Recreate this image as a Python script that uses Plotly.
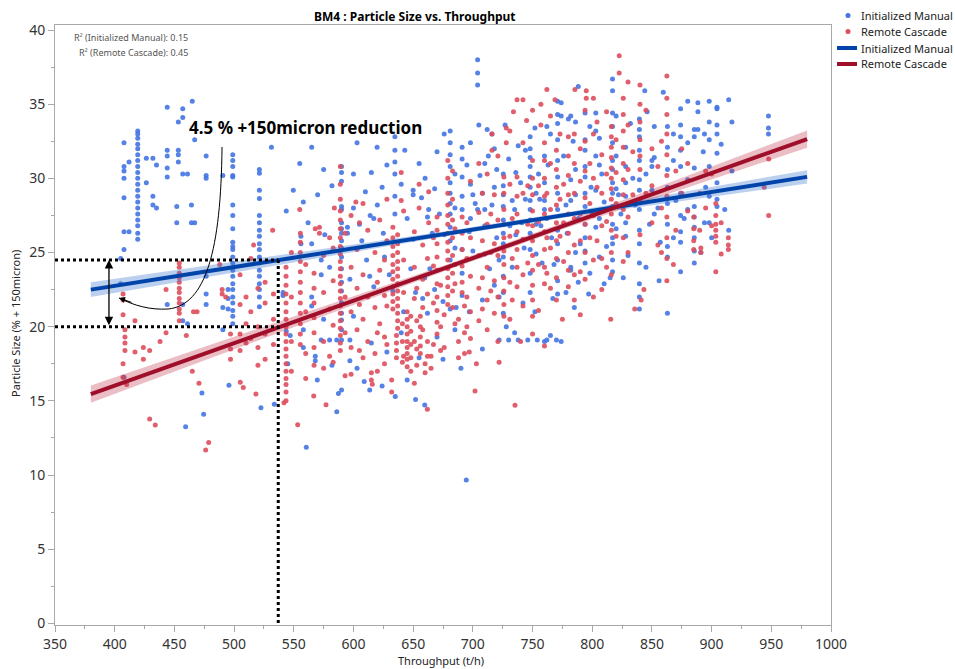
import plotly.graph_objects as go

# ---- Scatter data: throughput (t/h) vs particle size (% +150 micron) ----
# Each entry: (throughput, (particle sizes recorded at that throughput))
manual_columns = [
    (405, (22.9, 24.6)),
    (407.8, (25.2, 26.4, 28.7, 30.0, 30.5, 30.8, 32.4, 16.6)),
    (412, (31.1, 26.4)),
    (419.3, (25.9, 26.3, 26.8, 27.2, 27.6, 28.0, 28.4, 28.8, 29.2, 29.6, 30.0, 30.4,
             30.8, 31.2, 31.6, 32.0, 32.3, 32.7, 33.0, 33.2)),
    (426.5, (31.35, 29.7)),
    (432, (31.35, 28.8, 28.2)),
    (435, (30.9, 28.0)),
    (444, (34.8, 31.9, 31.5, 30.7, 30.1, 21.5)),
    (452, (28.1, 27.0)),
    (453.3, (33.8, 31.9, 31.6, 31.1)),
    (457, (34.7, 34.1, 30.3, 21.5, 20.4)),
    (459.4, (13.26,)),
    (461, (30.3, 20.2)),
    (464.3, (28.2, 27.0)),
    (465, (35.2,)),
    (467, (32.6, 27.0)),
    (473.1, (15.53,)),
    (474.5, (14.09,)),
    (476.6, (31.5, 30.2, 30.0, 23.4, 22.2, 21.5)),
    (490.6, (30.2, 21.3, 19.8)),
    (495, (22.5, 21.9, 21.2)),
    (495.7, (16.05,)),
    (498.9, (31.6, 31.2, 30.8, 30.2, 30.1, 28.2, 27.5, 26.6, 25.7, 25.4, 25.2, 24.7,
             24.3, 23.8, 23.4, 22.9, 22.5, 22.0, 21.6, 21.1, 20.7, 20.2)),
    (521.2, (30.6, 30.35, 29.2, 28.65, 27.5, 27.0, 26.5, 26.1, 25.6, 25.2, 24.7, 24.3,
             23.8, 23.4, 22.9, 22.5, 22.0, 21.35)),
    (522.5, (14.54,)),
    (531.3, (32.1,)),
    (533.7, (14.77,)),
    (541, (22.3, 22.1)),
    (543.7, (27.8, 19.7)),
    (545, (17.5,)),
    (547, (19.4,)),
    (549.6, (29.2,)),
    (555, (31.0,)),
    (556, (26.1, 25.6)),
    (558, (19.8, 18.6, 28.4)),
    (560.5, (11.87,)),
    (562, (27.0,)),
    (565, (32.1, 25.6, 22.0, 21.4)),
    (568, (18.0, 17.7)),
    (569.7, (16.4,)),
    (570, (28.9,)),
    (573, (24.5, 23.5, 19.1)),
    (575, (30.6, 20.5)),
    (576, (26.2,)),
    (580, (24.0, 19.1)),
    (582, (29.5, 17.4)),
    (586, (19.1, 14.27)),
    (587.4, (15.5,)),
    (590, (30.8, 30.4, 29.8, 28.1, 27.9, 27.0, 26.6, 26.3, 25.8, 25.3, 24.7, 23.9,
           23.0, 22.4, 21.6, 20.9, 20.45, 19.8, 19.1, 15.73)),
    (595, (26.7, 26.3)),
    (597, (23.2, 19.1, 17.7)),
    (600, (28.0, 30.3, 20.7)),
    (603, (32.4, 17.2)),
    (605, (26.9,)),
    (607, (25.8,)),
    (609, (16.3,)),
    (610, (29.1,)),
    (611, (24.5,)),
    (613.6, (15.73, 23.4)),
    (614, (27.5,)),
    (615, (30.4, 18.9)),
    (617, (27.3, 22.7)),
    (619.8, (32.1,)),
    (620, (28.2,)),
    (624, (29.4, 16.0)),
    (625, (26.3,)),
    (626, (24.7,)),
    (628, (30.9, 18.3)),
    (630, (23.5,)),
    (633, (22.4,)),
    (634.7, (32.8, 31.9, 31.1, 30.3, 28.8, 27.6)),
    (635, (15.3,)),
    (640, (29.6, 19.6)),
    (642, (21.0,)),
    (643, (31.9,)),
    (645, (16.4, 27.3)),
    (648, (23.9,)),
    (650, (29.2, 28.9, 25.9)),
    (652, (22.3, 15.1)),
    (655, (31.0, 17.9)),
    (657, (28.7,)),
    (658, (21.9,)),
    (659.7, (14.72, 23.3)),
    (660, (30.0,)),
    (662, (27.4, 20.9)),
    (663, (27.9,)),
    (664, (23.9,)),
    (666, (26.3,)),
    (668, (22.5, 29.3)),
    (670, (31.8, 19.3)),
    (672, (27.6,)),
    (675, (21.7, 17.8)),
    (676, (26.2, 33.0)),
    (681, (33.2, 32.4, 31.6, 30.8, 29.7, 29.0, 28.3, 27.6, 26.7, 25.8, 24.5, 21.2)),
    (685, (19.8, 30.3, 28.0, 25.3)),
    (686, (21.3,)),
    (690, (17.2,)),
    (691, (32.1, 31.3, 30.1, 28.8, 27.9, 25.2, 23.6, 22.1)),
    (694.5, (9.66,)),
    (695, (30.9,)),
    (697, (21.0, 26.4)),
    (698, (32.4, 29.6, 27.3)),
    (700, (28.9, 25.1)),
    (702, (28.3,)),
    (704, (38.0, 37.1, 36.3, 27.9)),
    (705, (33.6,)),
    (706, (30.2,)),
    (708, (21.8, 18.5, 29.0)),
    (710, (26.8, 31.0, 27.9, 24.9)),
    (712, (33.3,)),
    (713, (31.5,)),
    (714, (23.9,)),
    (716, (33.0, 28.2)),
    (718, (22.8, 32.0, 29.4)),
    (720, (30.6, 26.0)),
    (722, (22.0, 19.1, 24.5)),
    (725.5, (30.3, 29.5, 28.9, 28.1, 27.2, 26.3, 25.6, 24.7, 23.4, 22.3, 20.9)),
    (727, (33.6,)),
    (728, (20.0,)),
    (730, (19.1, 31.3)),
    (731, (26.8,)),
    (733, (28.5, 24.0)),
    (735, (27.9, 19.6)),
    (736, (30.4, 26.2)),
    (738, (19.1, 32.2)),
    (740, (29.7,)),
    (741, (27.0,)),
    (742, (21.6,)),
    (743, (25.3,)),
    (744, (31.9, 28.6)),
    (746, (19.1,)),
    (748, (32.8, 32.0, 31.4, 30.8, 30.1, 29.4, 28.5, 27.9, 27.2, 26.3, 25.2, 23.6, 22.3)),
    (752, (33.4, 21.0)),
    (753, (29.0, 26.9, 24.9)),
    (754, (19.1,)),
    (755, (30.3,)),
    (756, (28.6,)),
    (757, (26.8,)),
    (758, (24.3,)),
    (760, (31.5, 29.7, 28.5, 27.9, 19.0)),
    (762, (19.1, 33.5, 27.3)),
    (763, (30.9,)),
    (765, (19.4, 33.0)),
    (766, (26.0,)),
    (767, (21.9,)),
    (768, (24.2,)),
    (770, (19.1,)),
    (771, (35.2, 34.3, 33.7, 32.6, 31.2, 30.1, 29.0, 27.9, 26.5, 25.6, 24.5, 23.1, 22.2)),
    (774, (35.1, 34.2, 19.0)),
    (776, (31.5,)),
    (778, (22.3, 28.2)),
    (779, (26.3,)),
    (780, (34.0,)),
    (782, (34.2, 29.9, 28.5, 24.0, 23.8)),
    (784, (32.5,)),
    (785, (21.3,)),
    (786, (30.6, 33.8, 28.9, 25.0)),
    (788.3, (36.2, 23.0, 27.3)),
    (790, (25.6,)),
    (794, (34.4, 32.6, 31.9, 30.8, 30.1, 29.0, 28.1, 26.9, 26.0, 25.1, 24.3)),
    (797, (22.2,)),
    (798, (33.5, 23.6)),
    (799, (29.4,)),
    (800, (27.7,)),
    (803, (34.4, 33.2, 31.5, 29.2, 26.7)),
    (806, (32.7, 30.9, 27.3, 24.7)),
    (808, (30.3,)),
    (810, (28.4, 22.9)),
    (812, (25.4,)),
    (815, (23.3,)),
    (817, (36.7, 35.9, 34.4, 33.5, 32.4, 31.2, 30.6, 29.7, 29.0, 28.1, 26.9, 26.0,
           25.6, 24.5, 23.7)),
    (820, (31.5, 34.2, 29.3, 26.6)),
    (822, (28.9,)),
    (824, (27.6,)),
    (826, (23.3,)),
    (828, (32.1, 30.8, 29.7, 28.8, 27.0, 26.1)),
    (830, (24.8,)),
    (832, (33.7,)),
    (834, (30.0,)),
    (836, (28.2,)),
    (839.5, (34.0, 33.3, 32.8, 31.9, 31.2, 29.9, 29.2, 27.9, 26.5, 25.6, 24.3, 22.9,
             22.0, 21.2)),
    (844, (35.9,)),
    (845, (30.3, 24.0)),
    (846, (34.5,)),
    (848, (26.9,)),
    (850, (31.2, 30.8, 29.2)),
    (852, (33.5, 31.4, 27.6)),
    (855, (28.0,)),
    (856, (23.1,)),
    (857, (25.7,)),
    (859.5, (35.8,)),
    (863, (33.5, 32.1, 30.6, 29.4, 28.3, 26.9, 25.4, 24.7, 20.9)),
    (868, (31.2, 33.0, 26.0)),
    (870, (28.5,)),
    (874, (34.7, 33.6, 32.8, 31.9, 30.8, 29.0, 27.5, 26.4, 25.7, 23.7)),
    (877, (27.3,)),
    (880, (35.2, 32.4, 29.9, 27.9)),
    (885.5, (33.3, 32.8, 30.7, 28.1, 27.4, 26.7, 26.0, 25.1, 24.3)),
    (888.5, (35.1, 34.5, 33.3)),
    (891, (25.0,)),
    (893, (31.8,)),
    (894, (33.0, 27.0)),
    (895, (29.4,)),
    (898, (35.2, 33.8, 32.6, 30.8, 28.8, 27.0)),
    (900, (26.0,)),
    (904.5, (34.8, 34.7, 33.6, 33.0, 31.7, 29.7, 28.6, 28.1)),
    (908, (32.3,)),
    (911, (27.9,)),
    (914.3, (35.3, 26.5)),
    (917, (33.8, 30.5)),
    (947.6, (34.2, 33.4, 33.0)),
]

cascade_columns = [
    (407, (22.2, 21.8, 20.8, 17.5, 16.6)),
    (408.6, (19.8, 19.3, 18.9, 18.4)),
    (410, (16.1,)),
    (417, (20.4, 18.3)),
    (424, (18.6, 17.8)),
    (429.3, (18.4, 13.78)),
    (434, (13.37,)),
    (438, (19.0,)),
    (443, (22.5, 19.6)),
    (454.1, (24.3, 24.0, 23.6, 23.3, 23.0, 22.6, 22.3, 21.9, 21.6, 21.2, 20.9, 20.4)),
    (460, (19.4,)),
    (465, (17.0,)),
    (466, (21.0,)),
    (469, (21.0,)),
    (470.6, (16.18,)),
    (476.2, (11.69,)),
    (478.7, (12.2,)),
    (488, (24.2,)),
    (490, (22.5, 22.2)),
    (493, (22.0,)),
    (497, (19.5, 18.5, 17.8)),
    (505, (23.5, 21.5, 19.5, 18.4)),
    (505.2, (16.25,)),
    (507.7, (15.9,)),
    (510, (22.0, 20.2, 18.9)),
    (514, (24.6, 21.0, 19.2)),
    (516.4, (25.5,)),
    (518.3, (15.46,)),
    (520, (22.6, 20.0, 18.6, 17.4)),
    (526, (23.0, 21.6, 19.5, 17.8)),
    (532.3, (26.5,)),
    (533, (22.2, 20.5, 18.8)),
    (541.8, (14.87,)),
    (543.5, (24.0, 23.4, 22.8, 22.2, 21.6, 21.0, 20.5, 20.0, 19.5, 19.0, 18.5, 18.0,
             17.5, 17.0, 16.5, 16.1, 15.6, 15.0)),
    (548, (25.0, 22.0, 19.0, 17.0)),
    (553.3, (13.39,)),
    (555, (27.9,)),
    (555.5, (26.3, 25.7, 25.0, 24.4, 23.7, 23.0, 22.3, 21.6, 20.9, 20.2, 19.5, 18.8)),
    (560, (24.2, 21.0, 18.2, 16.5)),
    (566.7, (15.33,)),
    (567, (23.6, 22.6, 21.6, 20.6, 19.6, 18.6, 17.4)),
    (568, (26.6,)),
    (571.5, (26.7, 26.3)),
    (575, (24.8, 22.3, 19.0, 17.2)),
    (577, (14.74,)),
    (580, (26.0, 21.2, 18.0)),
    (583, (25.3, 23.1, 20.1, 17.6)),
    (584, (28.0,)),
    (589, (30.8, 29.6, 28.6, 27.8, 27.2, 26.6, 26.0, 25.4, 24.9, 24.4, 23.9, 23.4,
           22.9, 22.4, 21.9, 21.4, 20.9, 20.4, 19.9, 19.4, 18.9, 18.4)),
    (593, (26.3, 22.0, 19.6, 16.7)),
    (598, (27.5, 24.0, 21.0, 18.6, 16.8)),
    (602, (28.4,)),
    (603, (25.2, 22.6, 19.8)),
    (605, (27.0, 21.5, 18.4)),
    (608, (28.3, 23.5, 20.5, 17.9)),
    (612, (26.5, 22.0, 19.0)),
    (615, (16.9, 16.4)),
    (615.8, (16.12,)),
    (618, (25.0, 21.3, 18.2)),
    (620, (23.0, 19.6, 17.0)),
    (622, (27.2, 23.8, 20.2)),
    (626, (24.5, 22.1, 19.3, 17.5)),
    (628, (28.6, 25.8, 21.4, 18.8)),
    (632, (16.4, 15.6)),
    (633, (26.7, 26.0, 25.4, 24.8, 24.2, 23.7, 23.2, 22.7, 22.2, 21.7, 21.2)),
    (636, (19.4, 18.9, 18.4, 17.9)),
    (637, (26.2, 25.6, 25.0, 24.4, 23.9, 23.4, 22.9, 22.4, 21.9, 21.4, 20.9, 20.4, 19.9)),
    (640, (30.4, 28.5)),
    (641, (20.2, 19.0, 17.6)),
    (642, (27.8, 24.5, 22.3, 18.0)),
    (645, (21.0, 20.5, 20.0, 19.5, 19.0, 18.6, 18.2, 17.8, 17.3)),
    (648, (20.7, 19.7, 18.8, 17.9, 17.0)),
    (651, (16.18, 26.4, 24.0, 21.9, 19.0)),
    (653, (22.6, 20.4, 18.5, 17.4)),
    (655, (29.6, 28.0)),
    (656, (20.7, 20.0, 19.3, 18.7, 18.2)),
    (658, (25.5, 23.2, 21.3, 19.8)),
    (660, (17.5, 16.9)),
    (661.9, (14.43,)),
    (662, (24.6, 22.2, 19.0, 18.0)),
    (663, (29.1, 27.0)),
    (665, (18.0, 17.2)),
    (667, (26.0, 24.1, 21.6, 18.8)),
    (670, (27.4, 26.5, 25.6, 24.7, 23.8, 22.9, 22.0, 21.1, 20.3, 19.5)),
    (673, (22.8, 20.0, 18.4)),
    (676, (20.8, 18.6)),
    (679, (31.2, 30.0, 29.0, 28.2, 27.5, 26.9, 26.3, 25.7, 25.1, 24.5, 23.9, 23.3,
           22.7, 22.1, 21.5)),
    (683, (30.5, 28.6, 27.2, 26.0, 24.8, 23.6, 22.4, 21.3)),
    (685, (26.6, 24.2, 22.9, 20.2)),
    (688, (20.5, 19.0, 17.9)),
    (691, (27.4, 26.3, 25.2, 24.1, 23.0, 22.3)),
    (693, (21.4, 19.6, 18.2)),
    (695, (27.0, 24.6, 22.0, 20.0)),
    (697, (18.3,)),
    (698, (29.8, 26.0, 23.4, 21.0, 19.2)),
    (701.8, (15.66,)),
    (703, (17.5,)),
    (705, (31.0, 27.7, 24.8, 22.6, 20.4)),
    (708, (29.0, 25.8, 23.3, 21.2)),
    (712, (30.3, 26.9, 24.0, 21.8, 19.8)),
    (715, (27.6, 25.0, 22.4)),
    (716, (33.0, 31.9)),
    (718, (28.9, 25.6, 23.1, 20.9)),
    (721, (31.5, 27.2, 24.8, 22.0, 19.0)),
    (722, (17.6,)),
    (726, (30.1, 29.0, 27.9, 26.9, 26.0, 25.1, 24.2, 23.3, 22.4, 21.5, 20.7)),
    (728, (33.4, 32.4)),
    (731, (33.2, 29.6, 26.1, 23.0, 20.5)),
    (733, (27.3, 24.6, 21.8)),
    (734, (34.5,)),
    (735.3, (14.7,)),
    (737, (35.3, 30.1, 28.8, 27.6, 26.4, 25.2, 24.0, 22.7)),
    (740, (19.0,)),
    (742, (35.3, 32.4, 29.0, 25.9, 23.5, 21.4)),
    (745, (33.9,)),
    (746, (29.5, 26.9, 24.3)),
    (750, (34.6, 31.2, 30.0, 28.9, 27.8, 26.8, 25.8, 24.8, 23.8, 22.8, 21.8, 20.7, 19.5)),
    (755, (29.5, 27.1, 24.2, 21.1)),
    (757, (33.6, 35.0)),
    (760, (32.4, 31.2, 30.0, 28.8, 27.6, 26.4, 25.2, 24.0, 22.9, 18.7)),
    (762, (36.0, 29.0, 26.0, 23.6)),
    (765, (34.2, 31.0, 27.9, 25.3, 22.6)),
    (768.8, (35.3,)),
    (770, (31.9, 30.6, 29.4, 28.2, 27.0, 25.8, 24.6, 23.3, 21.8)),
    (773, (33.0, 28.6, 26.1)),
    (775, (20.5,)),
    (776, (29.6, 27.0, 24.4)),
    (780, (32.8, 31.5, 30.2, 28.9, 27.6, 26.3, 25.0, 23.8, 22.7)),
    (785, (33.0, 31.0, 29.0, 27.3, 25.5, 23.5, 21.8)),
    (785.5, (36.0,)),
    (790, (20.8, 32.0, 29.8, 27.6, 25.8, 23.7)),
    (794, (34.6, 32.5, 30.5, 28.7, 26.9, 25.0, 23.2)),
    (795, (35.9, 35.4)),
    (798, (31.0, 28.3, 26.0)),
    (801, (35.4, 33.0, 30.0, 27.5, 24.5, 22.0)),
    (804, (33.8, 29.4, 25.8)),
    (808, (31.6, 29.0, 26.8, 24.6, 22.5)),
    (812, (34.5, 30.3, 27.1, 24.0)),
    (815.5, (20.5,)),
    (816, (33.5, 32.8, 32.1, 31.4, 30.7, 30.0, 29.3, 28.6, 28.0, 27.6, 26.5, 25.0, 23.5)),
    (820, (32.6, 30.4, 28.3, 26.1)),
    (822.6, (38.26, 37.1)),
    (826, (35.4, 34.3, 33.2, 32.1, 31.0, 29.9, 28.9, 27.9, 26.0, 24.4)),
    (830, (36.5, 33.6, 30.6, 27.4, 25.0)),
    (834, (31.8, 28.9)),
    (835.6, (21.2,)),
    (840, (36.3, 35.0, 33.8, 32.6, 31.5, 30.6, 28.5, 26.2)),
    (841, (21.8,)),
    (843.3, (22.5,)),
    (845, (34.6, 29.0)),
    (850, (32.0, 29.5, 27.0)),
    (855, (30.8, 25.5)),
    (858, (32.5, 28.0, 25.0)),
    (862.5, (36.9, 35.4, 34.3, 33.0, 31.6, 30.2, 28.8, 27.4, 26.0, 24.6, 23.1)),
    (868, (24.2,)),
    (870, (30.5, 26.5)),
    (875, (32.0, 29.0)),
    (880, (31.0, 27.8)),
    (885, (27.4, 26.6, 25.8, 25.2)),
    (890, (29.0, 26.5)),
    (891, (25.3, 25.0)),
    (895, (30.5, 28.0)),
    (900, (30.3, 26.8)),
    (903.5, (28.3, 27.5, 26.9, 26.5, 26.1, 25.7, 23.7)),
    (908, (27.0, 24.9)),
    (914, (26.0, 25.5, 25.2)),
    (944, (29.4,)),
    (947.8, (31.3, 27.5)),
]

# ---- Linear fits with confidence bands ----
fit_x = [380, 480, 580, 680, 780, 880, 980]
manual_fit = [22.5, 23.77, 25.03, 26.3, 27.57, 28.83, 30.1]
manual_ci = [0.50, 0.38, 0.26, 0.17, 0.17, 0.30, 0.45]
cascade_fit = [15.45, 18.32, 21.18, 24.05, 26.92, 29.78, 32.65]
cascade_ci = [0.58, 0.44, 0.30, 0.20, 0.22, 0.38, 0.58]

r2_manual = 0.15
r2_cascade = 0.45

# Operating point used for the comparison guides
ref_throughput = 537
manual_at_ref = 24.5
cascade_at_ref = 20.0
arrow_x = 395.2

BLUE_PT = "rgb(68,116,226)"
RED_PT = "rgb(222,78,92)"
BLUE_LN = "rgb(0,68,170)"
RED_LN = "rgb(160,15,42)"
FONT = "Noto Sans"


def flatten(cols):
    xs, ys = [], []
    for x, yvals in cols:
        for y in yvals:
            xs.append(x)
            ys.append(y)
    return xs, ys


man_x, man_y = flatten(manual_columns)
cas_x, cas_y = flatten(cascade_columns)

fig = go.Figure()

fig.add_trace(go.Scatter(x=man_x, y=man_y, mode="markers", name="Initialized Manual",
                         marker=dict(size=5, color=BLUE_PT, opacity=0.9, line=dict(width=0)),
                         showlegend=False))
fig.add_trace(go.Scatter(x=cas_x, y=cas_y, mode="markers", name="Remote Cascade",
                         marker=dict(size=5, color=RED_PT, opacity=0.9, line=dict(width=0)),
                         showlegend=False))


def band(fit, ci, color):
    upper = [f + c for f, c in zip(fit, ci)]
    lower = [f - c for f, c in zip(fit, ci)]
    return go.Scatter(x=fit_x + fit_x[::-1], y=upper + lower[::-1], fill="toself",
                      fillcolor=color, line=dict(width=0), mode="lines",
                      hoverinfo="skip", showlegend=False)


fig.add_trace(band(manual_fit, manual_ci, "rgba(60,120,205,0.35)"))
fig.add_trace(band(cascade_fit, cascade_ci, "rgba(190,40,65,0.30)"))
fig.add_trace(go.Scatter(x=fit_x, y=manual_fit, mode="lines", name="Initialized Manual",
                         line=dict(color=BLUE_LN, width=4), showlegend=False))
fig.add_trace(go.Scatter(x=fit_x, y=cascade_fit, mode="lines", name="Remote Cascade",
                         line=dict(color=RED_LN, width=4), showlegend=False))

# ---- Plot geometry (pixels) ----
W, H = 955, 669
ML, MR, MT, MB = 55, 124, 25, 44
PW, PH = W - ML - MR, H - MT - MB


def px(xp):
    return (xp - ML) / PW


def py(yp):
    return (H - MB - yp) / PH


shapes = []
# dotted guide lines at the operating point
dot = dict(color="black", width=3, dash="dot")
shapes.append(dict(type="line", xref="x", yref="y", x0=350, x1=ref_throughput,
                   y0=manual_at_ref, y1=manual_at_ref, line=dot, layer="above"))
shapes.append(dict(type="line", xref="x", yref="y", x0=350, x1=ref_throughput,
                   y0=cascade_at_ref, y1=cascade_at_ref, line=dot, layer="above"))
shapes.append(dict(type="line", xref="x", yref="y", x0=ref_throughput, x1=ref_throughput,
                   y0=manual_at_ref, y1=0, line=dot, layer="above"))
# curved pointer from the callout text
shapes.append(dict(type="path", xref="x", yref="y", layer="above",
                   path="M 489.9,32.12 C 489.05,25.17 476.5,21.46 444.7,21.19 "
                        "C 429.6,21.13 417.0,21.40 403.6,21.94",
                   line=dict(color="black", width=1)))

# key (legend) drawn in the right margin
key_rows = [
    ("Initialized Manual", "dot", BLUE_PT, 15.5),
    ("Remote Cascade", "dot", RED_PT, 31.5),
    ("Initialized Manual", "line", BLUE_LN, 48),
    ("Remote Cascade", "line", RED_LN, 64),
]
annotations = []
for label, kind, color, yy in key_rows:
    if kind == "dot":
        shapes.append(dict(type="circle", xref="paper", yref="paper",
                           xsizemode="pixel", ysizemode="pixel",
                           xanchor=px(848), yanchor=py(yy),
                           x0=-2.5, x1=2.5, y0=-2.5, y1=2.5,
                           fillcolor=color, line=dict(width=0)))
    else:
        shapes.append(dict(type="line", xref="paper", yref="paper",
                           x0=px(837), x1=px(857), y0=py(yy), y1=py(yy),
                           line=dict(color=color, width=4)))
    annotations.append(dict(xref="paper", yref="paper", x=px(859), y=py(yy),
                            xanchor="left", yanchor="middle", showarrow=False,
                            text=label, font=dict(family=FONT, size=11, color="#222")))

# R² readouts
annotations.append(dict(xref="paper", yref="paper", x=px(190), y=py(37.5),
                        xanchor="right", yanchor="middle", showarrow=False,
                        text=f"R² (Initialized Manual): {r2_manual:.2f}",
                        font=dict(family=FONT, size=9, color="#555")))
annotations.append(dict(xref="paper", yref="paper", x=px(190), y=py(52),
                        xanchor="right", yanchor="middle", showarrow=False,
                        text=f"R² (Remote Cascade): {r2_cascade:.2f}",
                        font=dict(family=FONT, size=9, color="#555")))

# callout
annotations.append(dict(xref="paper", yref="paper", x=px(187), y=py(127),
                        xanchor="left", yanchor="middle", showarrow=False,
                        text="<b>4.5 % +150micron reduction</b>",
                        font=dict(family=FONT, size=17, color="black")))
# double-headed arrow between the two fitted values
annotations.append(dict(xref="x", yref="y", axref="x", ayref="y",
                        x=arrow_x, y=manual_at_ref, ax=arrow_x, ay=cascade_at_ref,
                        text="", showarrow=True, arrowside="end+start",
                        arrowhead=2, arrowsize=1.3, arrowwidth=1.3, arrowcolor="black"))
# arrowhead at the end of the curved pointer
annotations.append(dict(xref="x", yref="y", x=403.6, y=21.94, ax=14, ay=5,
                        text="", showarrow=True, arrowhead=2, arrowsize=1.2,
                        arrowwidth=1, arrowcolor="black"))

# title and axis titles
annotations.append(dict(xref="paper", yref="paper", x=px(415), y=py(16),
                        xanchor="center", yanchor="middle", showarrow=False,
                        text="<b>BM4 : Particle Size vs. Throughput</b>",
                        font=dict(family=FONT, size=12, color="black")))
annotations.append(dict(xref="paper", yref="paper", x=px(441), y=py(660),
                        xanchor="center", yanchor="middle", showarrow=False,
                        text="Throughput (t/h)",
                        font=dict(family=FONT, size=11, color="#222")))
annotations.append(dict(xref="paper", yref="paper", x=px(15), y=py(324),
                        xanchor="center", yanchor="middle", showarrow=False,
                        textangle=-90, text="Particle Size (% + 150micron)",
                        font=dict(family=FONT, size=11, color="#222")))

axis_common = dict(showgrid=False, zeroline=False, showline=True, mirror=True,
                   linecolor="#a8a8a8", linewidth=1, ticks="outside", ticklen=6,
                   tickcolor="#a8a8a8", tickfont=dict(family=FONT, size=14, color="#333"))

fig.update_layout(
    width=W, height=H,
    margin=dict(l=ML, r=MR, t=MT, b=MB),
    plot_bgcolor="white", paper_bgcolor="white",
    showlegend=False,
    shapes=shapes, annotations=annotations,
    xaxis=dict(range=[350, 1000], tick0=350, dtick=50,
               minor=dict(dtick=25, ticks="outside", ticklen=3, tickcolor="#a8a8a8"),
               **axis_common),
    yaxis=dict(range=[-0.11, 40.34], tick0=0, dtick=5,
               minor=dict(dtick=2.5, ticks="outside", ticklen=3, tickcolor="#a8a8a8"),
               **axis_common),
)

fig.write_html("out.html")
